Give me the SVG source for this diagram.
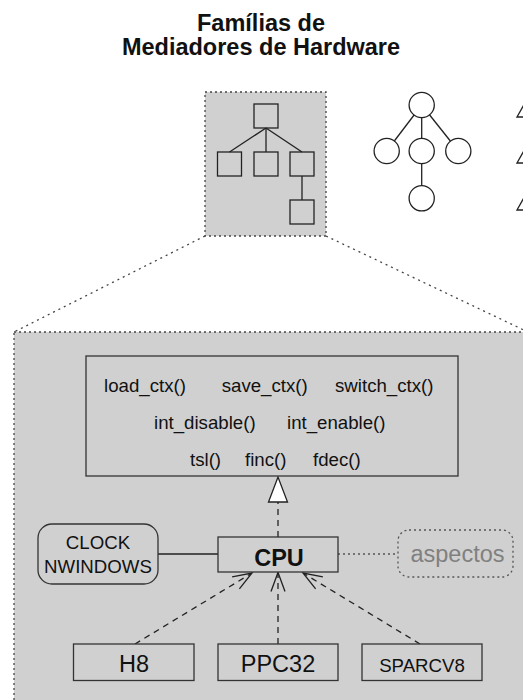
<svg xmlns="http://www.w3.org/2000/svg" width="523" height="700" viewBox="0 0 523 700">
<style>
text{font-family:"Liberation Sans",Arial,Helvetica,sans-serif;fill:#111}
.box{fill:#d0d0d0;stroke:#333;stroke-width:1.3}
.zone{fill:#d0d0d0;stroke:#444;stroke-width:1.3;stroke-dasharray:2,3}
.zoomln{fill:none;stroke:#444;stroke-width:1.3;stroke-dasharray:2,4}
.ic{fill:none;stroke:#222;stroke-width:1.3}
.dash{fill:none;stroke:#222;stroke-width:1.3;stroke-dasharray:6,5}
.m{font-size:18.67px}
</style>
<defs>
<marker id="open" markerUnits="userSpaceOnUse" viewBox="-20 -8 22 16" refX="0" refY="0" markerWidth="22" markerHeight="16" orient="auto" overflow="visible">
<path d="M-19,-7 L0,0 L-19,7" fill="none" stroke="#222" stroke-width="1.3"/>
</marker>
</defs>
<rect width="523" height="700" fill="#fff"/>
<g id="title">
<text x="261" y="31" text-anchor="middle" font-size="23.5" font-weight="bold">Famílias de</text>
<text x="261" y="55" text-anchor="middle" font-size="23.5" font-weight="bold">Mediadores de Hardware</text>
</g>
<g id="zoom-lines">
<line class="zoomln" x1="205" y1="236" x2="14" y2="332"/>
<line class="zoomln" x1="326" y1="236" x2="528" y2="332"/>
</g>
<g id="family-icon">
<rect class="zone" x="205" y="92" width="121" height="144"/>
<g class="ic">
<line x1="266" y1="128" x2="229.5" y2="152"/>
<line x1="266" y1="128" x2="266" y2="152"/>
<line x1="266" y1="128" x2="302" y2="152"/>
<line x1="302" y1="176" x2="302" y2="200"/>
<rect x="254" y="104" width="24" height="24"/>
<rect x="217.5" y="152" width="24" height="24"/>
<rect x="254" y="152" width="24" height="24"/>
<rect x="290" y="152" width="24" height="24"/>
<rect x="290" y="200" width="24" height="24"/>
</g>
</g>
<g id="tree-icon" class="ic">
<line x1="421.7" y1="105" x2="386.7" y2="151"/>
<line x1="421.7" y1="105" x2="421.7" y2="198.3"/>
<line x1="421.7" y1="105" x2="458.3" y2="151"/>
<circle cx="421.7" cy="105" r="12.6" fill="#fff"/>
<circle cx="386.7" cy="151" r="12.6" fill="#fff"/>
<circle cx="421.7" cy="151" r="12.6" fill="#fff"/>
<circle cx="458.3" cy="151" r="12.6" fill="#fff"/>
<circle cx="421.7" cy="198.3" r="12.6" fill="#fff"/>
</g>
<g id="triangle-icon" class="ic">
<polygon points="517,117 530,94 543,117"/>
<polygon points="517,163 530,140 543,163"/>
<polygon points="517,210 530,187 543,210"/>
</g>
<g id="zone">
<rect class="zone" x="14" y="332" width="514" height="400"/>
</g>
<g id="connectors">
<line class="dash" x1="278" y1="537" x2="278" y2="502"/>
<polygon points="278,477 268.5,502 287.5,502" fill="#fff" stroke="#222" stroke-width="1.3"/>
<line x1="158" y1="554" x2="218" y2="554" stroke="#222" stroke-width="1.3"/>
<line x1="338" y1="554" x2="398" y2="554" stroke="#555" stroke-width="1.3" stroke-dasharray="2,3"/>
<line class="dash" x1="135" y1="644" x2="252" y2="573" marker-end="url(#open)"/>
<line class="dash" x1="278" y1="644" x2="278" y2="572.5" marker-end="url(#open)"/>
<line class="dash" x1="420" y1="644" x2="303" y2="573" marker-end="url(#open)"/>
</g>
<g id="interface">
<rect class="box" x="86" y="356" width="372" height="120"/>
<text class="m" x="104" y="392">load_ctx()</text>
<text class="m" x="221.7" y="392">save_ctx()</text>
<text class="m" x="335" y="392">switch_ctx()</text>
<text class="m" x="154" y="429">int_disable()</text>
<text class="m" x="287" y="429">int_enable()</text>
<text class="m" x="190" y="466">tsl()</text>
<text class="m" x="245" y="466">finc()</text>
<text class="m" x="313" y="466">fdec()</text>
</g>
<g id="cpu">
<rect class="box" x="218" y="537" width="120" height="35"/>
<text x="279" y="566" text-anchor="middle" font-size="23.5" font-weight="bold">CPU</text>
</g>
<g id="clock">
<rect class="box" x="38" y="524" width="120" height="60" rx="14"/>
<text class="m" x="98" y="549" text-anchor="middle">CLOCK</text>
<text class="m" x="98" y="572.7" text-anchor="middle">NWINDOWS</text>
</g>
<g id="aspectos">
<rect x="398" y="530" width="115" height="47" rx="11" fill="#d0d0d0" stroke="#555" stroke-width="1.3" stroke-dasharray="2,3"/>
<text x="457.5" y="562" text-anchor="middle" font-size="23.5" style="fill:#808080">aspectos</text>
</g>
<g id="h8">
<rect class="box" x="73.5" y="644" width="120.5" height="36.5"/>
<text x="134" y="672.3" text-anchor="middle" font-size="23.5">H8</text>
</g>
<g id="ppc32">
<rect class="box" x="218" y="644" width="120" height="36.5"/>
<text x="278" y="672.3" text-anchor="middle" font-size="23.5">PPC32</text>
</g>
<g id="sparcv8">
<rect class="box" x="362" y="644" width="120" height="36.5"/>
<text x="422" y="671.7" text-anchor="middle" font-size="18.67">SPARCV8</text>
</g>
</svg>
